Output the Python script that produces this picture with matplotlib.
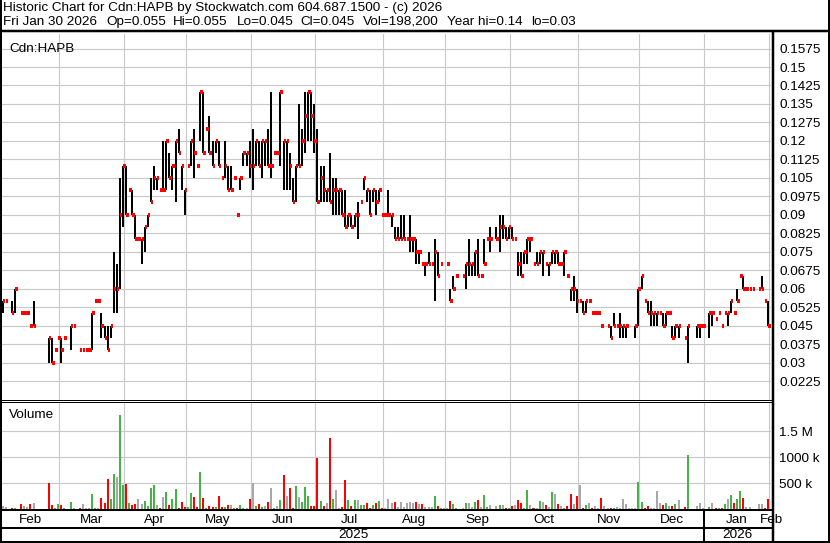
import numpy as np
import matplotlib
matplotlib.use('Agg')
import matplotlib.pyplot as plt
from matplotlib.lines import Line2D

plt.rcParams['font.family'] = ['Liberation Sans', 'DejaVu Sans']

N = None
# one entry per trading day, Feb 3 2025 .. Jan 30 2026 (None = no trade)
high = [
    .055, .055, N, .055, .06, N, .05, .05, .05, .045,            # 0
    .055, N, N, N, N, .04, .04, .035, .04, .04,                   # 10
    .04, N, .045, .045, N, .035, .035, .035, .035, .05,           # 20
    .055, .055, .05, .045, .045, .045, .075, .07, .105, .11,      # 30
    .11, .10, .10, .09, .08, .08, .085, .09, .105, .11,           # 40
    .105, .10, .12, .12, .115, .11, .12, .125, .11, .10,          # 50
    .11, .12, .125, .11, .14, .14, .125, .13, .12, .12,           # 60
    .12, .105, .12, .11, .11, .105, .09, .105, .115, .115,        # 70
    .12, .125, .12, .12, .12, .12, .125, .14, .115, .115,         # 80
    .14, .12, .12, .115, .105, .11, .135, .125, .14, .14,         # 90
    .14, .135, .125, .11, .11, .10, .115, .105, .105, .10,        # 100
    .10, .10, .09, .09, .09, .095, .095, .105, .10, .10,          # 110
    .10, .10, .10, .09, .09, .10, .09, .085, .085, .09,           # 120
    .09, .08, .09, .08, .08, .075, .07, .07, .075, .07,           # 130
    .08, .075, .07, N, .07, .06, .065, .065, N, .065,             # 140
    .07, .08, .07, .075, .08, .065, .08, .08, .085, N,            # 150
    .085, .09, .09, .085, .085, .085, .08, .075, .075, .075,      # 160
    .08, .08, .07, .075, .075, .075, .07, .07, .075, .075,        # 170
    .075, .07, .075, .065, .06, .065, .06, .055, .055, .055,      # 180
    .055, .05, .05, .05, .045, N, .045, .045, .05, .045,          # 190
    .05, .045, .045, N, N, .045, .06, .065, .055, .055,           # 200
    .055, .05, .05, .05, .05, .05, .05, .045, .045, .045,         # 210
    N, .04, .045, N, N, .045, .045, .045, N, .05,                 # 220
    .05, .0475, .05, .045, .05, .05, .055, .05, .06, .065,        # 230
    .065, .06, .06, .06, N, .06, .065, .055, .055,                # 240
]
low = [
    .05, .055, N, .05, .05, N, .05, .05, .05, .045,
    .045, N, N, N, N, .03, .03, .035, .04, .03,
    .04, N, .035, .045, N, .035, .035, .035, .035, .035,
    .055, .055, .04, .04, .035, .04, .05, .05, .06, .085,
    .09, .10, .09, .08, .08, .07, .075, .085, .095, .10,
    .10, .10, .10, .10, .105, .10, .095, .115, .10, .09,
    .11, .11, .105, .11, .12, .115, .125, .115, .11, .115,
    .11, .105, .105, .10, .10, .105, .09, .10, .11, .11,
    .105, .10, .11, .11, .105, .11, .11, .105, .115, .115,
    .11, .10, .10, .10, .095, .095, .11, .11, .115, .12,
    .12, .115, .095, .095, .095, .095, .095, .09, .09, .09,
    .09, .085, .085, .085, .085, .08, .095, .10, .095, .09,
    .095, .09, .095, .09, .09, .09, .085, .08, .08, .08,
    .08, .08, .075, .075, .07, .07, .07, .065, .07, .07,
    .055, .065, .07, N, .07, .055, .06, .065, N, .065,
    .06, .065, .065, .065, .065, .065, .07, .08, .075, N,
    .08, .075, .08, .08, .08, .08, .08, .065, .065, .07,
    .07, .075, .07, .07, .07, .065, .07, .065, .07, .07,
    .07, .07, .065, .065, .055, .055, .05, .055, .05, .05,
    .055, .05, .05, .05, .045, N, .045, .04, .045, .045,
    .04, .04, .04, N, N, .04, .045, .06, .055, .05,
    .045, .045, .045, .05, .045, .045, .05, .04, .04, .04,
    N, .04, .03, N, N, .04, .04, .045, N, .04,
    .045, .0475, .05, .045, .05, .045, .05, .05, .055, .065,
    .06, .06, .06, .06, N, .06, .06, .055, .045,
]
close = [
    .055, .055, N, .05, .06, N, .05, .05, .05, .045,
    .045, N, N, N, N, .04, .03, .035, .04, .035,
    .04, N, .045, .045, N, .035, .035, .035, .035, .05,
    .055, .055, .045, .04, .035, .045, .06, .06, .09, .11,
    .09, .10, .09, .08, .08, .08, .085, .09, .095, .105,
    .105, .10, .10, .12, .105, .11, .12, .115, .11, .10,
    .11, .12, .115, .11, .14, .115, .125, .115, .11, .12,
    .11, .105, .11, .10, .10, .105, .09, .105, .115, .115,
    .11, .11, .12, .11, .12, .12, .11, .11, .115, .115,
    .14, .12, .12, .11, .095, .11, .11, .12, .13, .14,
    .13, .12, .095, .105, .10, .10, .095, .10, .10, .10,
    .09, .085, .09, .085, .09, .09, .095, .105, .10, .09,
    .10, .095, .10, .09, .09, .09, .09, .08, .08, .08,
    .08, .08, .08, .08, .075, .075, .07, .07, .07, .07,
    .075, .065, .07, N, .07, .055, .06, .065, N, .065,
    .07, .07, .07, .075, .065, .065, .07, .08, .08, N,
    .08, .085, .085, .08, .085, .08, .08, .07, .065, .075,
    .08, .08, .07, .07, .075, .075, .07, .07, .075, .075,
    .07, .07, .075, .065, .06, .06, .055, .055, .05, .055,
    .055, .05, .05, .05, .045, N, .045, .04, .045, .045,
    .045, .045, .045, N, N, .045, .06, .065, .055, .05,
    .05, .05, .05, .05, .045, .05, .05, .04, .045, .045,
    N, .04, .045, N, N, .045, .045, .045, N, .05,
    .05, .0475, .05, .045, .05, .05, .055, .05, .055, .065,
    .06, .06, .06, .06, N, .06, .06, .055, .045,
]
# volume in thousands of shares
volume = [
    58, 45, 0, 12, 12, 0, 96, 58, 32, 96,
    115, 0, 0, 0, 0, 500, 77, 26, 96, 77,
    26, 0, 135, 12, 0, 12, 96, 12, 12, 289,
    12, 12, 212, 115, 576, 192, 672, 615, 1807, 462,
    481, 115, 77, 96, 192, 96, 154, 58, 404, 462,
    77, 12, 231, 327, 77, 192, 385, 12, 135, 38,
    38, 308, 231, 38, 711, 212, 26, 58, 38, 38,
    250, 38, 38, 77, 77, 26, 26, 77, 26, 26,
    192, 500, 58, 96, 38, 58, 135, 404, 12, 58,
    173, 653, 250, 404, 26, 443, 231, 135, 423, 250,
    58, 58, 980, 154, 58, 115, 1365, 192, 366, 12,
    38, 558, 173, 58, 173, 173, 77, 77, 115, 12,
    77, 115, 154, 12, 12, 192, 115, 135, 38, 135,
    38, 115, 135, 115, 135, 96, 96, 38, 38, 38,
    250, 58, 12, 12, 12, 154, 96, 12, 0, 12,
    115, 115, 38, 135, 173, 38, 269, 38, 77, 0,
    58, 77, 77, 12, 26, 58, 77, 173, 115, 12,
    366, 77, 12, 12, 154, 135, 77, 38, 327, 289,
    96, 58, 12, 58, 289, 96, 250, 462, 12, 77,
    115, 12, 58, 12, 217, 58, 12, 12, 12, 38,
    12, 192, 96, 12, 12, 12, 520, 135, 26, 58,
    26, 12, 346, 115, 77, 115, 58, 58, 96, 173,
    0, 38, 1038, 0, 0, 58, 115, 12, 0, 38,
    115, 26, 26, 12, 96, 192, 269, 115, 192, 346,
    212, 38, 38, 0, 0, 96, 96, 12, 198,
]
months = ['Feb', 'Mar', 'Apr', 'May', 'Jun', 'Jul', 'Aug', 'Sep', 'Oct',
          'Nov', 'Dec', 'Jan', 'Feb']
trading_days = [19, 21, 20, 21, 21, 22, 20, 21, 22, 20, 21, 21]
years = ['2025', '2026']
price_ticks = [0.0225, 0.03, 0.0375, 0.045, 0.0525, 0.06, 0.0675, 0.075,
               0.0825, 0.09, 0.0975, 0.105, 0.1125, 0.12, 0.1275, 0.135,
               0.1425, 0.15, 0.1575]
vol_ticks = [500e3, 1000e3, 1500e3]
vol_labels = ['500 k', '1000 k', '1.5 M']
quote = ['Fri Jan 30 2026', 'Op=0.055', 'Hi=0.055', 'Lo=0.045', 'Cl=0.045',
         'Vol=198,200', 'Year hi=0.14', 'lo=0.03']

W, H = 830, 543
fig = plt.figure(figsize=(W / 100, H / 100), dpi=100)
GRID = '#c8c8c8'
FS = 9.7


def fx(px):
    return px / W


def fy(py):
    return 1 - py / H


def panel(top, bottom, left=2, right=771):
    a = fig.add_axes([fx(left), fy(bottom), (right - left) / W, (bottom - top) / H])
    for s in a.spines.values():
        s.set_visible(False)
    a.set_xticks([])
    return a


def rule(x0, y0, x1, y1, w=2):
    fig.add_artist(Line2D([fx(x0), fx(x1)], [fy(y0), fy(y1)], transform=fig.transFigure,
                          color='black', lw=w * 0.72, solid_capstyle='butt', zorder=10))


n = len(close)
idx = np.arange(n)
xlim = (-0.23, 248.96)
bounds = np.cumsum(trading_days) - 0.7

# price panel
ax = panel(34, 400)
ax.set_xlim(*xlim)
ax.set_ylim(0.0148, 0.1634)
for v in price_ticks:
    ax.axhline(v, color=GRID, lw=0.8, zorder=0)
for b in bounds:
    ax.axvline(b, color=GRID, lw=0.8, zorder=0)
ax.yaxis.tick_right()
ax.set_yticks(price_ticks)
ax.set_yticklabels(['%g' % v for v in price_ticks])
ax.tick_params(axis='y', length=0, pad=6, labelsize=FS)

hi = np.array([np.nan if v is None else v for v in high])
lo = np.array([np.nan if v is None else v for v in low])
cl = np.array([np.nan if v is None else v for v in close])
rng = hi > lo
ax.vlines(idx[rng], lo[rng], hi[rng], colors='black', linewidths=1.3, antialiased=False)
ok = ~np.isnan(cl)
ax.hlines(cl[ok], idx[ok], idx[ok] + 0.8, colors='red', linewidths=1.5, antialiased=False)
ax.text(0.009, 0.975, 'Cdn:HAPB', transform=ax.transAxes, fontsize=FS, va='top')

# volume panel
vx = panel(402, 509)
vx.set_xlim(*xlim)
vx.set_ylim(0, 2.06e6)
for v in vol_ticks:
    vx.axhline(v, color=GRID, lw=0.8, zorder=0)
for b in bounds:
    vx.axvline(b, color=GRID, lw=0.8, zorder=0)
vx.yaxis.tick_right()
vx.set_yticks(vol_ticks)
vx.set_yticklabels(vol_labels)
vx.tick_params(axis='y', length=0, pad=6, labelsize=FS)

colors = []
prev = np.nan
for c in cl:
    if np.isnan(c) or np.isnan(prev) or c == prev:
        colors.append('#a8a8a8')
    elif c > prev:
        colors.append('#44b444')
    else:
        colors.append('#ff0000')
    if not np.isnan(c):
        prev = c
vx.bar(idx, np.array(volume) * 1000, width=0.65, color=colors, linewidth=0, zorder=2)
vx.text(0.009, 0.93, 'Volume', transform=vx.transAxes, fontsize=FS, va='top')

# month strip
mx = panel(511, 527)
mx.set_xlim(*xlim)
mx.set_ylim(0, 1)
mx.set_yticks([])
starts = np.concatenate([[xlim[0]], bounds[:-1]])
for m, a, b in zip(months[:-1], starts, bounds):
    mx.text((a + b) / 2, 0.45, m, ha='center', va='center', fontsize=FS)
mx.text(bounds[-1] + 0.8, 0.45, months[-1], ha='center', va='center', fontsize=FS,
        clip_on=False)

# year strip
yx = panel(528, 541)
yx.set_xlim(*xlim)
yx.set_ylim(0, 1)
yx.set_yticks([])
yx.text((xlim[0] + bounds[10]) / 2, 0.45, years[0], ha='center', va='center', fontsize=FS)
yx.text((bounds[10] + xlim[1]) / 2, 0.45, years[1], ha='center', va='center', fontsize=FS)
sep = 2 + (bounds[10] - xlim[0]) / (xlim[1] - xlim[0]) * 769

# header
fig.text(fx(3), fy(8), 'Historic Chart for Cdn:HAPB by Stockwatch.com 604.687.1500 - (c) 2026',
         fontsize=FS, va='center')
for s, x in zip(quote, [3, 106, 173, 237, 300, 363, 447, 531]):
    fig.text(fx(x), fy(22), s, fontsize=FS, va='center')

# frame
rule(1, 0, 1, 543, 2)
rule(0, 31, 830, 31, 2.5)
rule(773, 31, 773, 541, 2.5)
rule(829, 0, 829, 543, 2)
rule(0, 541.5, 830, 541.5, 2)
rule(0, 400, 773, 400, 1)
rule(0, 402, 773, 402, 1)
rule(0, 510, 773, 510, 2)
rule(0, 527.5, 773, 527.5, 2)
rule(sep, 510, sep, 541, 2)

fig.savefig('out.png', dpi=100)
